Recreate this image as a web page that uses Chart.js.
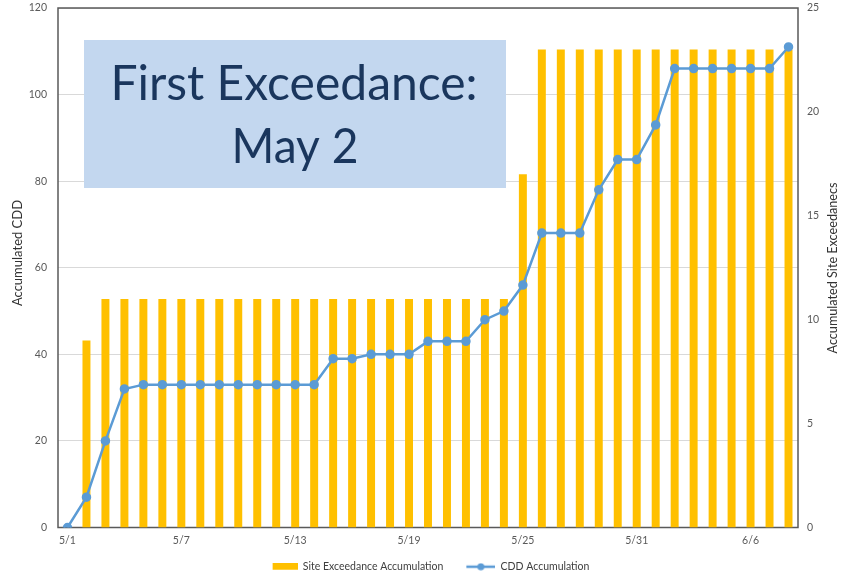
<!DOCTYPE html>
<html>
<head>
<meta charset="utf-8">
<script src="https://cdn.jsdelivr.net/npm/chart.js@4"></script>
<style>
html, body { margin: 0; padding: 0; background: #fff; }
#wrap { width: 841px; height: 577px; }
</style>
</head>
<body>
<div id="wrap"><canvas id="myChart"></canvas></div>
<script>
let labels = ['5/1','5/2','5/3','5/4','5/5','5/6','5/7','5/8','5/9','5/10',
  '5/11','5/12','5/13','5/14','5/15','5/16','5/17','5/18','5/19','5/20',
  '5/21','5/22','5/23','5/24','5/25','5/26','5/27','5/28','5/29','5/30',
  '5/31','6/1','6/2','6/3','6/4','6/5','6/6','6/7','6/8'];

// right axis - bars
let exceedances = [0, 9, 11, 11, 11, 11, 11, 11, 11, 11,
  11, 11, 11, 11, 11, 11, 11, 11, 11, 11,
  11, 11, 11, 11, 17, 23, 23, 23, 23, 23,
  23, 23, 23, 23, 23, 23, 23, 23, 23];

// left axis - line
let cdd = [0, 7, 20, 32, 33, 33, 33, 33, 33, 33,
  33, 33, 33, 33, 39, 39, 40, 40, 40, 43,
  43, 43, 48, 50, 56, 68, 68, 68, 78, 85,
  85, 93, 106, 106, 106, 106, 106, 106, 111];

let leftTicks = [0, 20, 40, 60, 80, 100, 120];
let rightTicks = [0, 5, 10, 15, 20, 25];

let barColor = '#FFC000';
let lineColor = '#5B9BD5';
let fontFamily = 'Lato, "Open Sans", sans-serif';

function makeIcon(w, h, draw) {
  let c = document.createElement('canvas');
  c.width = w; c.height = h;
  draw(c.getContext('2d'));
  return c;
}
let barIcon = makeIcon(46, 8, (g) => { g.fillStyle = barColor; g.fillRect(21, 0, 25, 7); });
let lineIcon = makeIcon(46, 8, (g) => {
  g.strokeStyle = lineColor; g.lineWidth = 2.5;
  g.beginPath(); g.moveTo(17, 4); g.lineTo(46, 4); g.stroke();
  g.fillStyle = lineColor; g.beginPath(); g.arc(31.5, 4, 3.5, 0, Math.PI * 2); g.fill();
});

// y tick padding is also used as vertical padding, drop it
function fitY(width) {
  return (s) => { s.width = width; s.paddingTop = 0; s.paddingBottom = 0; };
}

let extras = {
  id: 'extras',
  beforeDatasetsDraw(chart) {
    let {ctx, chartArea: a} = chart;
    ctx.save();
    ctx.strokeStyle = '#595959';
    ctx.lineWidth = 1.5;
    ctx.strokeRect(a.left, a.top, a.right - a.left, a.bottom - a.top);
    ctx.restore();
  },
  afterDraw(chart) {
    let {ctx} = chart;
    ctx.save();
    // note box
    ctx.fillStyle = '#C3D7EF';
    ctx.fillRect(84, 40, 422, 148);
    ctx.fillStyle = '#1A365D';
    ctx.font = '48px ' + fontFamily;
    ctx.textAlign = 'center';
    ctx.textBaseline = 'alphabetic';
    ctx.fillText('First Exceedance:', 294, 100, 368);
    ctx.fillText('May 2', 295, 163, 127);
    // axis titles
    ctx.fillStyle = '#333333';
    ctx.font = '13px ' + fontFamily;
    ctx.textBaseline = 'middle';
    ctx.translate(18, 253);
    ctx.rotate(-Math.PI / 2);
    ctx.fillText('Accumulated CDD', 0, 0, 127);
    ctx.restore();
    ctx.save();
    ctx.fillStyle = '#333333';
    ctx.font = '13px ' + fontFamily;
    ctx.textAlign = 'center';
    ctx.textBaseline = 'middle';
    ctx.translate(833, 268);
    ctx.rotate(-Math.PI / 2);
    ctx.fillText('Accumulated Site Exceedanecs', 0, 0, 171);
    ctx.restore();
  }
};

let ctx = document.getElementById('myChart').getContext('2d');
let myChart = new Chart(ctx, {
  type: 'bar',
  data: {
    labels: labels,
    datasets: [{
      type: 'bar',
      label: 'Site Exceedance Accumulation',
      data: exceedances,
      backgroundColor: barColor,
      yAxisID: 'y1',
      categoryPercentage: 1,
      barPercentage: 0.42,
      order: 1
    }, {
      type: 'line',
      label: 'CDD Accumulation',
      data: cdd,
      borderColor: lineColor,
      backgroundColor: lineColor,
      borderWidth: 2.5,
      pointRadius: 3.5,
      pointHoverRadius: 3.5,
      tension: 0,
      yAxisID: 'y',
      order: 0
    }]
  },
  options: {
    responsive: true,
    maintainAspectRatio: false,
    animation: false,
    layout: { padding: { top: 8, bottom: -5, left: 0, right: 0 } },
    plugins: {
      tooltip: { enabled: false },
      legend: {
        position: 'bottom',
        labels: {
          usePointStyle: true,
          pointStyleWidth: 46,
          padding: 6,
          color: '#404040',
          font: { family: fontFamily, size: 10.5 },
          generateLabels(chart) {
            let items = Chart.defaults.plugins.legend.labels.generateLabels(chart);
            items.sort((p, q) => p.datasetIndex - q.datasetIndex);
            items.forEach((it) => { it.pointStyle = it.datasetIndex === 0 ? barIcon : lineIcon; });
            return items;
          }
        }
      }
    },
    scales: {
      x: {
        offset: true,
        grid: { display: false, drawTicks: false },
        border: { display: false },
        ticks: {
          autoSkip: false,
          maxRotation: 0,
          padding: 7,
          color: '#595959',
          font: { family: fontFamily, size: 10.5 },
          callback: (v, i) => (i % 6 === 0 ? labels[i] : '')
        },
        afterFit: (s) => { s.height = 28; }
      },
      y: {
        position: 'left',
        min: 0,
        max: 120,
        afterBuildTicks: (s) => { s.ticks = leftTicks.map(v => ({ value: v })); },
        grid: { color: '#D9D9D9', lineWidth: 1, drawTicks: false },
        border: { display: false },
        ticks: { padding: 11, color: '#595959', font: { family: fontFamily, size: 10.5 } },
        afterFit: fitY(58)
      },
      y1: {
        position: 'right',
        min: 0,
        max: 25,
        afterBuildTicks: (s) => { s.ticks = rightTicks.map(v => ({ value: v })); },
        grid: { display: false, drawTicks: false },
        border: { display: false },
        ticks: { padding: 9, color: '#595959', font: { family: fontFamily, size: 10.5 } },
        afterFit: fitY(43)
      }
    }
  },
  plugins: [extras]
});
</script>
</body>
</html>
